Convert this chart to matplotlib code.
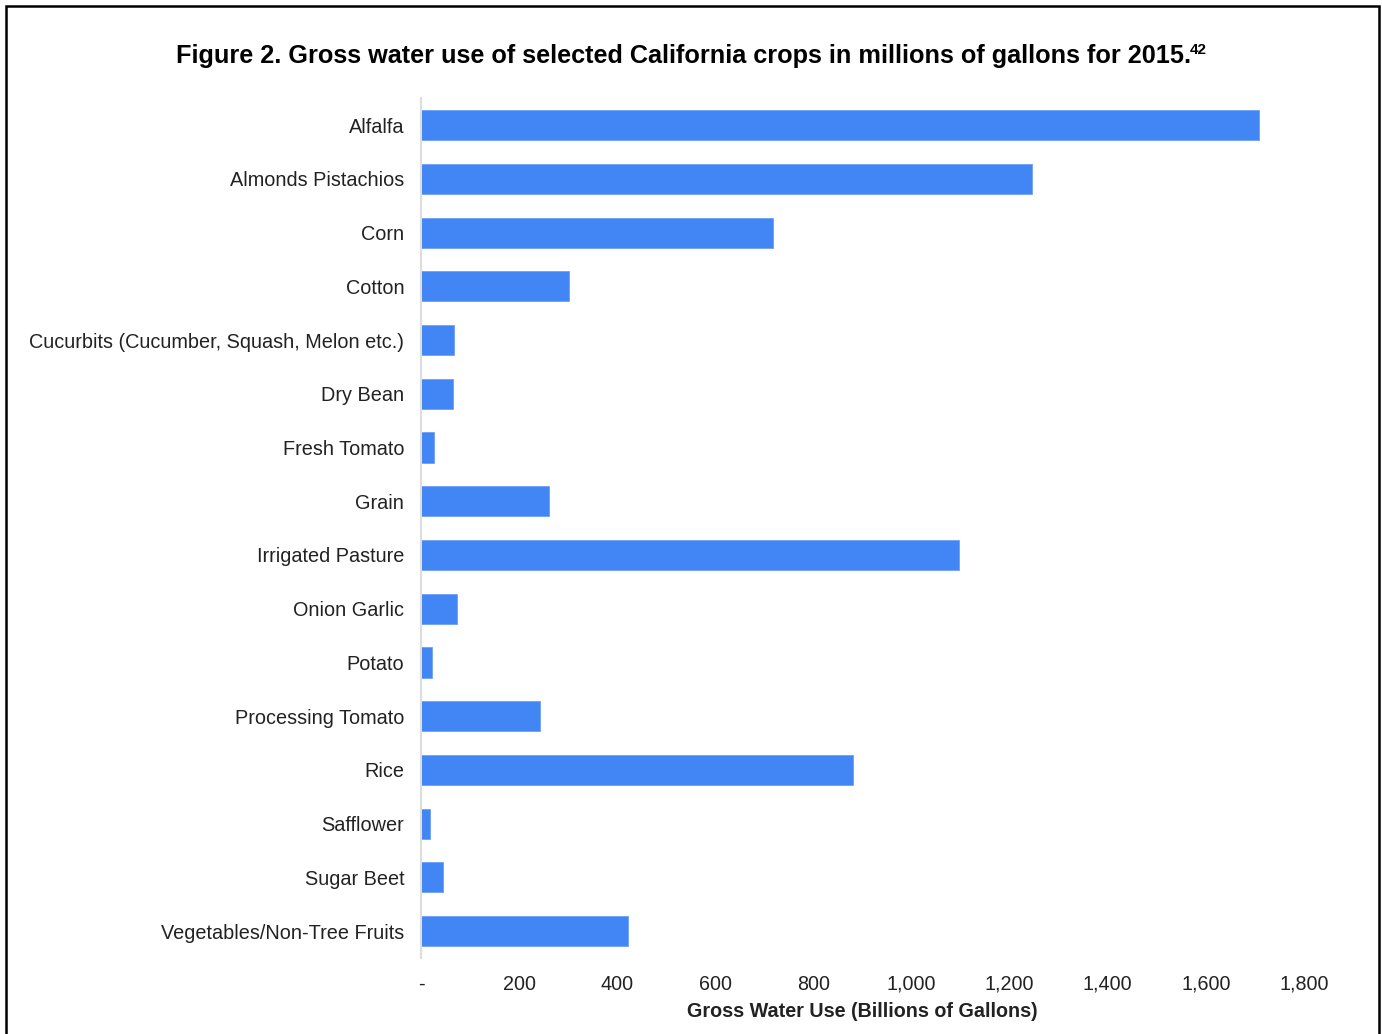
import matplotlib.pyplot as plt
import matplotlib.patches as patches
from matplotlib.ticker import FuncFormatter

plt.rcParams['font.family'] = ['Liberation Sans', 'DejaVu Sans']

crops = ['Alfalfa', 'Almonds Pistachios', 'Corn', 'Cotton',
         'Cucurbits (Cucumber, Squash, Melon etc.)', 'Dry Bean', 'Fresh Tomato',
         'Grain', 'Irrigated Pasture', 'Onion Garlic', 'Potato',
         'Processing Tomato', 'Rice', 'Safflower', 'Sugar Beet',
         'Vegetables/Non-Tree Fruits']
water_use = [1708, 1245, 718, 302, 67, 65, 27, 261, 1096, 73, 22, 243, 880, 18, 45, 422]
xticks = [0, 200, 400, 600, 800, 1000, 1200, 1400, 1600, 1800]

fig = plt.figure(figsize=(13.82, 10.34), dpi=100)
ax = fig.add_axes([0.3046, 0.0735, 0.639, 0.8315])

y = list(range(len(crops)))
ax.barh(y, water_use, height=0.56, color='#4285f4', edgecolor='#6fa0f6', linewidth=0.6)
ax.set_ylim(len(crops) - 0.5, -0.5)
ax.set_xlim(0, 1800)
ax.set_yticks(y)
ax.set_yticklabels(crops, fontsize=14.3, color='#222222')
ax.set_xticks(xticks)
ax.xaxis.set_major_formatter(FuncFormatter(lambda v, p: '-' if v == 0 else f'{int(v):,}'))
ax.tick_params(axis='x', length=0, labelsize=14.2, labelcolor='#222222', pad=12)
ax.tick_params(axis='y', length=0, pad=12)

for s in ['top', 'right', 'bottom']:
    ax.spines[s].set_visible(False)
ax.spines['left'].set_color('#dddddd')
ax.spines['left'].set_linewidth(1.5)

ax.set_xlabel('Gross Water Use (Billions of Gallons)', fontsize=14.2,
              fontweight='bold', color='#222222', labelpad=6)

title = fig.text(0.4946, 0.946, 'Figure 2. Gross water use of selected California crops in millions of gallons for 2015.',
                 ha='center', va='center', fontsize=18.2, fontweight='bold')
fig.canvas.draw()
bb = title.get_window_extent()
fig.text((bb.x1 - 1) / fig.bbox.width, (bb.y1 + 1) / fig.bbox.height, '42',
         ha='left', va='top', fontsize=11, fontweight='bold')

fig.add_artist(patches.Rectangle((6 / 1382, -0.05), 1373 / 1382, 1.05 - 6 / 1034,
                                 transform=fig.transFigure, fill=False,
                                 edgecolor='black', linewidth=1.8, clip_on=False))

fig.savefig('out.png', dpi=100)
